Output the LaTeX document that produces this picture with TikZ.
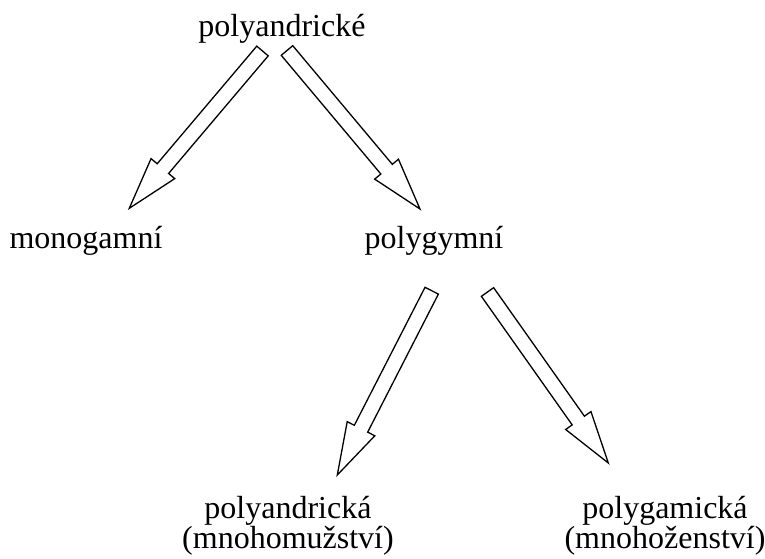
\documentclass[tikz,border=0pt]{standalone}
\usepackage{fontspec}
\setmainfont{Liberation Serif}
\usetikzlibrary{calc}
\tikzset{
  lbl/.style={font=\fontsize{32}{36}\selectfont, inner sep=0pt, anchor=base},
  blk/.style={draw=black, line width=1.3pt, fill=white, line join=miter},
}
\newcommand\blockarrow[2]{%
  \coordinate (hb) at ($(#2)!52pt!(#1)$);
  \draw[blk] ($(#1)!7.5pt!90:(#2)$) -- ($(hb)!7.5pt!90:(#2)$) -- ($(hb)!15.5pt!90:(#2)$)
    -- (#2) -- ($(hb)!15.5pt!-90:(#2)$) -- ($(hb)!7.5pt!-90:(#2)$) -- ($(#1)!7.5pt!-90:(#2)$) -- cycle;
}
\begin{document}
\begin{tikzpicture}[x=1pt,y=-1pt]
\useasboundingbox (0,0) rectangle (765,559);
\node[lbl] (top) at (282,37) {polyandrické};
\node[lbl] (mono) at (86,248) {monogamní};
\node[lbl] (gym) at (434,248) {polygymní};
\node[lbl] (pa) at (288,518) {polyandrická};
\node[lbl] (pa2) at (288,548) {(mnohomužství)};
\node[lbl] (pg) at (665,518) {polygamická};
\node[lbl] (pg2) at (665,548) {(mnohoženství)};
\coordinate (s1) at (262.5,51);  \coordinate (t1) at (129.3,208.3);
\coordinate (s2) at (287,50.5);  \coordinate (t2) at (420,209);
\coordinate (s3) at (431.7,290.7); \coordinate (t3) at (337.3,475);
\coordinate (s4) at (487.5,292); \coordinate (t4) at (608.3,463);
\blockarrow{s1}{t1}
\blockarrow{s2}{t2}
\blockarrow{s3}{t3}
\blockarrow{s4}{t4}
\end{tikzpicture}
\end{document}
